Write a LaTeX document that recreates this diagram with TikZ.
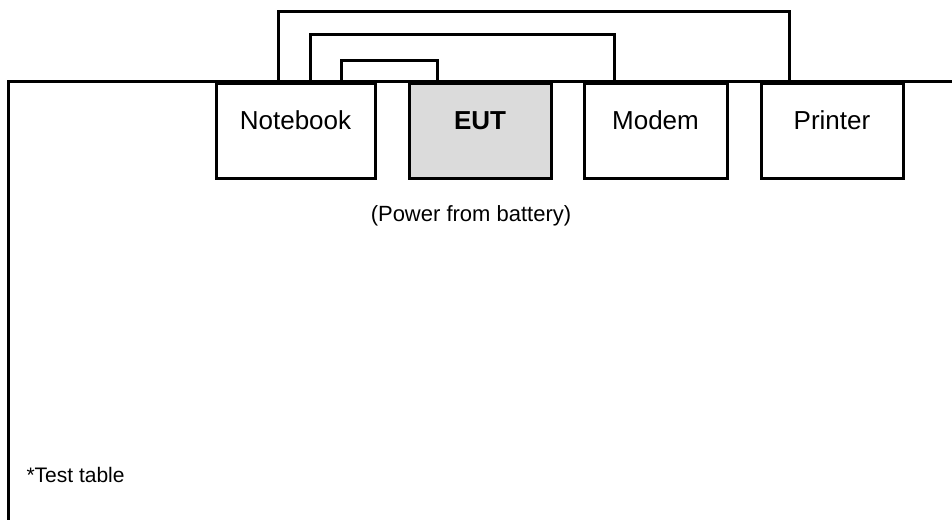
\documentclass[tikz,border=0pt]{standalone}
\usepackage{fontspec}
\setmainfont{Liberation Sans}
\usetikzlibrary{calc}
\begin{document}
\begin{tikzpicture}[x=0.5pt,y=-0.5pt,
  line width=1.5pt,
  dev/.style={draw,fill=white,inner xsep=0pt,inner ysep=0pt,text height=23pt,text depth=24.5pt,font=\fontsize{13}{15}\selectfont},
  cable/.style={draw,line width=1.5pt},
  note/.style={inner sep=0pt,font=\fontsize{10.5}{12}\selectfont}]
\useasboundingbox (0,0) rectangle (952,520);
% test table
\coordinate (tr) at (952,81);
\coordinate (tl) at (8,81);
\coordinate (bl) at (8,520);
\draw[line width=1.5pt] (tr) -- (tl) -- (bl);
% devices
\node[dev,minimum width=79.5pt,anchor=north] (nb) at (295.5,82) {Notebook};
\node[dev,fill=black!14,minimum width=71pt,anchor=north] (eut) at (480,82) {\textbf{EUT}};
\node[dev,minimum width=71.5pt,anchor=north] (mo) at (655.5,82) {Modem};
\node[dev,minimum width=71pt,anchor=north] (pr) at (832,82) {Printer};
% cables
\draw[cable] ($(nb.north west)+(64,0)$) -- ++(0,-71) -| ($(pr.north west)+(30,0)$);
\draw[cable] ($(nb.north west)+(96,0)$) -- ++(0,-48) -| ($(mo.north west)+(32,0)$);
\draw[cable] ($(nb.north west)+(127,0)$) -- ++(0,-22) -| ($(eut.north west)+(30,0)$);
% notes
\node[note,font=\fontsize{11}{13}\selectfont] (pw) at (471,216) {(Power from battery)};
\node[note,anchor=west] (tt) at (25,475) {*Test table};
\end{tikzpicture}
\end{document}
